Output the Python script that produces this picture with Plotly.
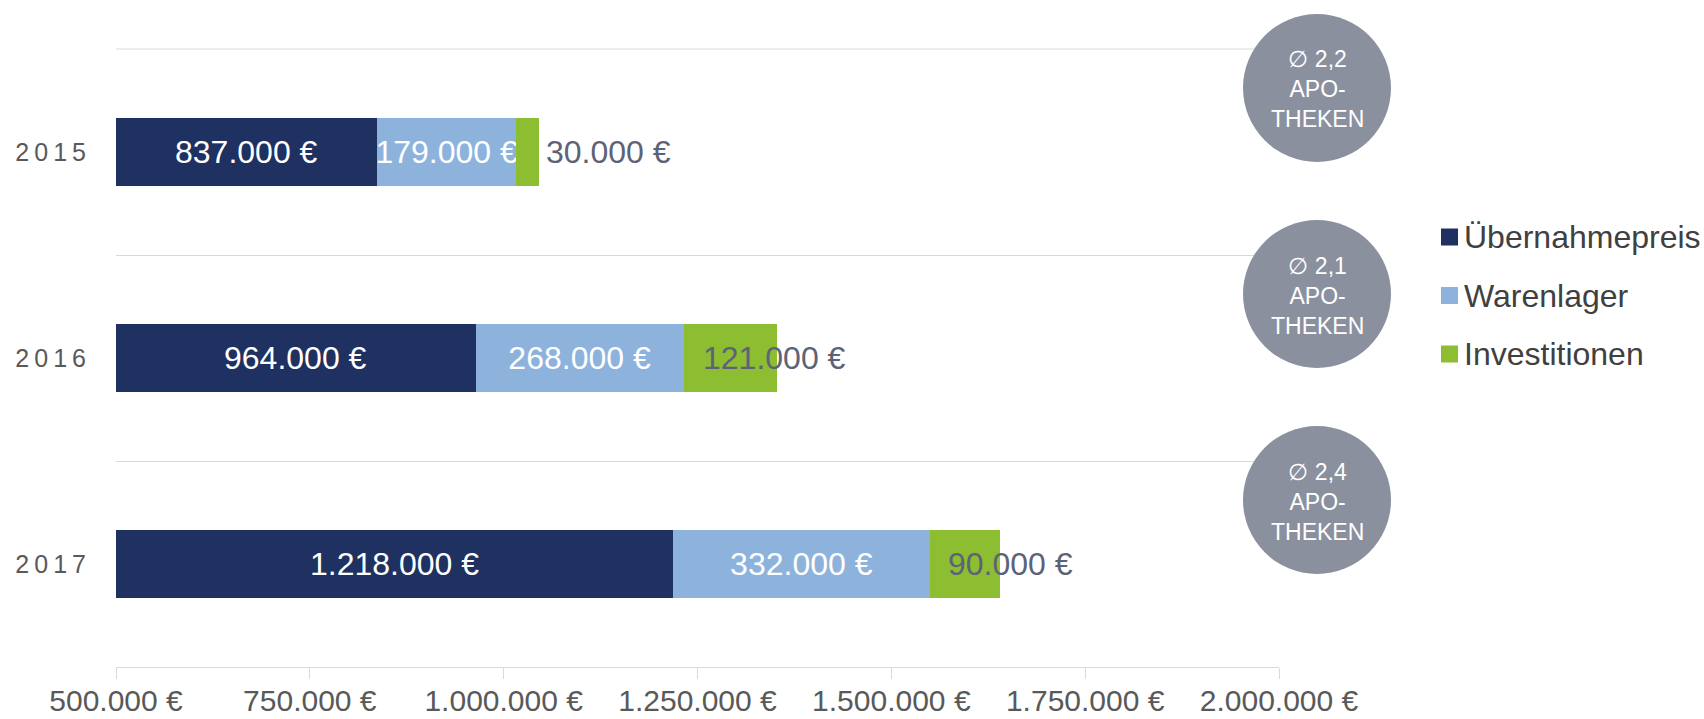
import plotly.graph_objects as go

years = ["2015", "2016", "2017"]
year_labels = ["2\u20090\u20091\u20095", "2\u20090\u20091\u20096", "2\u20090\u20091\u20097"]
uebernahme = [837000, 964000, 1218000]
warenlager = [179000, 268000, 332000]
investitionen = [30000, 121000, 90000]
apotheken = ["2,2", "2,1", "2,4"]
series_names = ["Übernahmepreis", "Warenlager", "Investitionen"]
x_ticks = [500000, 750000, 1000000, 1250000, 1500000, 1750000, 2000000]
x_ticklabels = ["500.000 €", "750.000 €", "1.000.000 €", "1.250.000 €",
                "1.500.000 €", "1.750.000 €", "2.000.000 €"]

W, H = 1704, 719
L, R, T, B = 116, 1279, 49, 667
PW, PH = R - L, B - T
XMIN, XMAX = 500000, 2000000

FONT = "Liberation Sans, Arial, sans-serif"
C_NAVY = "#1f3160"
C_LIGHT = "#8db3dd"
C_GREEN = "#8dbd31"
colors = [C_NAVY, C_LIGHT, C_GREEN]
C_CIRCLE = "#8a909e"
C_GRID = "#d9d9d9"
C_TEXT = "#595959"
C_INV = "#5d6376"

# pixel offsets of the outside labels from the start of the green segment
inv_label_shift = [28, 17, 16]


def fmt(v):
    return f"{v:,}".replace(",", ".") + " €"


fig = go.Figure()
fig.add_trace(go.Bar(
    y=years, x=uebernahme, name=series_names[0], orientation="h",
    marker=dict(color=C_NAVY, line=dict(width=0)), width=0.33,
    textposition="none", showlegend=False,
))
fig.add_trace(go.Bar(
    y=years, x=warenlager, name=series_names[1], orientation="h",
    marker=dict(color=C_LIGHT, line=dict(width=0)), width=0.33,
    texttemplate="%{x:,.0f} €", textposition="inside", insidetextanchor="middle",
    constraintext="none", textfont=dict(color="white", size=32, family=FONT),
    showlegend=False,
))
fig.add_trace(go.Bar(
    y=years, x=investitionen, name=series_names[2], orientation="h",
    marker=dict(color=C_GREEN, line=dict(width=0)), width=0.33,
    textposition="none", showlegend=False,
))

annotations = []
shapes = []

# top boundary line (category boundary above first bar)
shapes.append(dict(type="line", xref="paper", yref="paper", x0=0, x1=1, y0=1, y1=1,
                   line=dict(color=C_GRID, width=1), layer="below"))

for i, yr in enumerate(years):
    annotations.append(dict(
        x=(XMIN + uebernahme[i]) / 2, y=i, xref="x", yref="y",
        xanchor="center", yanchor="middle", showarrow=False,
        text=fmt(uebernahme[i]), font=dict(size=32, color="white", family=FONT),
    ))
    start = uebernahme[i] + warenlager[i]
    annotations.append(dict(
        x=start, y=i, xref="x", yref="y", xanchor="left", yanchor="middle",
        xshift=inv_label_shift[i], showarrow=False,
        text=fmt(investitionen[i]),
        font=dict(size=32, color=C_INV, family=FONT),
    ))

r = 74
cx = (1317 - L) / PW
for i in range(len(years)):
    cy = 1 - (i + 0.5) / 3 + 64 / PH
    shapes.append(dict(
        type="circle", xref="paper", yref="paper", layer="above",
        x0=cx - r / PW, x1=cx + r / PW, y0=cy - r / PH, y1=cy + r / PH,
        fillcolor=C_CIRCLE, line=dict(width=0),
    ))
    annotations.append(dict(
        x=cx, y=cy - 1.5 / PH, xref="paper", yref="paper",
        xanchor="center", yanchor="middle", showarrow=False,
        text=f"\u2205 {apotheken[i]}<br>APO-<br>THEKEN",
        font=dict(size=23, color="white", family=FONT),
    ))

# legend (drawn manually so that it does not push the plot margins)
leg_y = [237, 295.5, 354]
sq = 17
sx0 = 1441
for name, col, ly in zip(series_names, colors, leg_y):
    py = (B - ly) / PH
    shapes.append(dict(
        type="rect", xref="paper", yref="paper",
        x0=(sx0 - L) / PW, x1=(sx0 + sq - L) / PW,
        y0=py - sq / 2 / PH, y1=py + sq / 2 / PH,
        fillcolor=col, line=dict(width=0),
    ))
    annotations.append(dict(
        x=(1462 - L) / PW, y=py, xref="paper", yref="paper",
        xanchor="left", yanchor="middle", showarrow=False,
        text=name, font=dict(size=32, color="#404040", family=FONT),
    ))

fig.update_layout(
    width=W, height=H, autosize=False,
    barmode="stack", separators=",.",
    plot_bgcolor="white", paper_bgcolor="white",
    margin=dict(l=L, r=W - R, t=T, b=H - B, pad=0),
    font=dict(family=FONT, color=C_TEXT),
    showlegend=False,
    shapes=shapes,
    annotations=annotations,
)
fig.update_xaxes(
    range=[XMIN, XMAX], tickmode="array", tickvals=x_ticks, ticktext=x_ticklabels,
    showgrid=False, zeroline=False, automargin=False,
    showline=True, linecolor=C_GRID, linewidth=1,
    ticks="outside", ticklen=11, tickcolor=C_GRID, tickwidth=1,
    tickfont=dict(size=30, color=C_TEXT, family=FONT), ticklabelstandoff=-4,
)
fig.update_yaxes(
    type="category", categoryorder="array", categoryarray=years,
    range=[2.5, -0.5], tickvals=years, ticktext=year_labels,
    tickson="boundaries", ticks="", showgrid=True, gridcolor=C_GRID, gridwidth=1,
    zeroline=False, showline=False, automargin=False,
    tickfont=dict(size=25, color=C_TEXT, family=FONT), ticklabelstandoff=29,
)

fig.write_html(
    "out.html",
    config={"displayModeBar": False},
    post_script="document.body.style.margin='0';document.body.style.overflow='hidden';",
)
